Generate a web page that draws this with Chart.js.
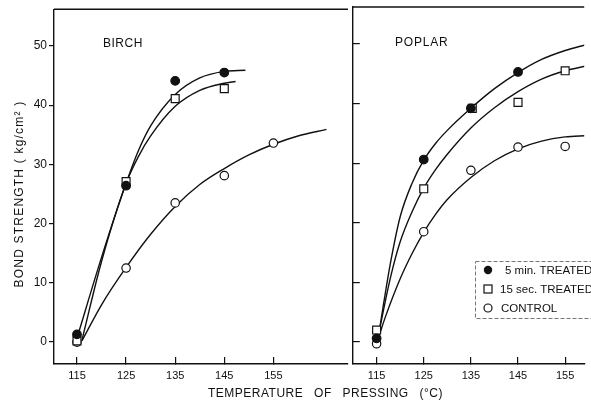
<!DOCTYPE html>
<html><head><meta charset="utf-8">
<script src="https://cdn.jsdelivr.net/npm/chart.js@4.4.1/dist/chart.umd.min.js"></script>
<style>
html,body{margin:0;padding:0;background:#fff;width:591px;height:413px;overflow:hidden;}
#a{position:absolute;left:0;top:0;}
#b{position:absolute;left:346px;top:0;}
</style></head><body>
<canvas id="a" width="591" height="413"></canvas>
<canvas id="b" width="245" height="413"></canvas>
<script>
// ---- tick labels & categories ----
const xTicks = [115, 125, 135, 145, 155];
const yTicks = [0, 10, 20, 30, 40, 50];
const seriesLabels = ['5 min. TREATED', '15 sec. TREATED', 'CONTROL'];
const panelNames = ['BIRCH', 'POPLAR'];
const xTitle = 'TEMPERATURE OF PRESSING (°C)';
const yTitle = 'BOND STRENGTH ( kg/cm² )';

// ---- BIRCH measured points ----
const birchTemp5 = [115, 125, 135, 145];
const birch5 = [1.3, 26.4, 44.1, 45.5];
const birchTemp15 = [115, 125, 135, 145];
const birch15 = [0.2, 27.1, 41.1, 42.8];
const birchTempC = [115, 125, 135, 145, 155];
const birchC = [0.0, 12.5, 23.5, 28.1, 33.6];

// ---- BIRCH fitted curves ----
const birchCurve5X = [115.3, 120, 125, 127.5, 130, 135, 140, 145, 149.3];
const birchCurve5Y = [1.5, 14.3, 26.8, 32.3, 36.5, 41.8, 44.6, 45.7, 45.9];
const birchCurve15X = [116, 120, 125, 127.5, 130, 135, 140, 145, 147.3];
const birchCurve15Y = [0.3, 13.6, 26.8, 31.3, 34.8, 39.8, 42.5, 43.7, 44.0];
const birchCurveCX = [116, 120, 125, 130, 135, 140, 145, 150, 155, 160, 165.8];
const birchCurveCY = [0.2, 6.3, 12.6, 18.2, 22.9, 26.6, 29.3, 31.6, 33.4, 34.8, 35.9];

// ---- POPLAR measured points ----
const poplarTemp5 = [115, 125, 135, 145];
const poplar5 = [0.6, 30.6, 39.2, 45.3];
const poplarTemp15 = [115, 125, 135.3, 145, 155];
const poplar15 = [2.0, 25.7, 39.2, 40.2, 45.5];
const poplarTempC = [115, 125, 135, 145, 155];
const poplarC = [-0.3, 18.5, 28.8, 32.7, 32.8];

// ---- POPLAR fitted curves ----
const poplarCurve5X = [115.5, 116.5, 118, 120, 122.5, 125, 127.5, 130, 135, 140, 145, 150, 155, 159.5];
const poplarCurve5Y = [1.5, 6.5, 13.5, 21.0, 26.6, 30.5, 33.3, 35.5, 39.2, 42.5, 45.2, 47.4, 48.9, 49.9];
const poplarCurve15X = [115.5, 116.5, 118, 120, 122.5, 125, 127.5, 130, 135, 140, 145, 150, 155, 159.5];
const poplarCurve15Y = [1.5, 5.5, 11.0, 16.8, 21.8, 25.8, 28.9, 31.5, 35.9, 39.3, 42.0, 44.1, 45.5, 46.3];
const poplarCurveCX = [115.5, 117, 120, 122.5, 125, 127.5, 130, 135, 140, 145, 150, 155, 159.5];
const poplarCurveCY = [1.0, 4.5, 10.6, 14.8, 18.4, 21.4, 23.9, 27.6, 30.4, 32.4, 33.7, 34.4, 34.6];

const FONT = '"Liberation Sans", Arial, sans-serif';
const INK = '#111';

function pts(xs, ys) { return xs.map((x, i) => ({ x: x, y: ys[i] })); }
function curve(xs, ys) {
  return { data: pts(xs, ys), borderColor: INK, borderWidth: 1.4, pointRadius: 0,
    cubicInterpolationMode: 'monotone', fill: false, showLine: true, order: 10 };
}
function marks(xs, ys, kind, label) {
  const base = { label: label, data: pts(xs, ys), showLine: false, borderColor: INK, borderWidth: 1.2 };
  if (kind === 'filled') return Object.assign(base, { pointStyle: 'circle', pointRadius: 4.3, backgroundColor: INK, pointBackgroundColor: INK, order: 1 });
  if (kind === 'square') return Object.assign(base, { pointStyle: 'rect', pointRadius: 5.6, backgroundColor: '#fff', pointBackgroundColor: '#fff', order: 2 });
  return Object.assign(base, { pointStyle: 'circle', pointRadius: 4.2, backgroundColor: '#fff', pointBackgroundColor: '#fff', order: 3 });
}

function setTicks(list) { return function (s) { s.ticks = list.map(v => ({ value: v })); }; }

function scales(xmin, xmax, yWidth, showYLabels, yTickLen) {
  return {
    x: {
      type: 'linear', min: xmin, max: xmax,
      afterBuildTicks: setTicks(xTicks),
      afterFit: function (s) { s.height = 49; },
      grid: { display: true, drawOnChartArea: false, drawTicks: true, tickLength: -7, color: INK, tickColor: INK, lineWidth: 1.2 },
      border: { display: true, color: INK, width: 1.4 },
      ticks: { color: INK, font: { family: FONT, size: 11 }, padding: 12, maxRotation: 0, autoSkip: false }
    },
    y: {
      type: 'linear', min: -3.7, max: 56.2,
      afterBuildTicks: setTicks(yTicks),
      afterFit: function (s) { s.width = yWidth; },
      grid: { display: true, drawOnChartArea: false, drawTicks: true, tickLength: yTickLen, color: INK, tickColor: INK, lineWidth: 1.2 },
      border: { display: true, color: INK, width: 1.4 },
      ticks: { display: showYLabels, color: INK, font: { family: FONT, size: 12 }, padding: 2, autoSkip: false }
    }
  };
}

function drawSym(ctx, kind, x, y) {
  ctx.save();
  ctx.lineWidth = 1.2; ctx.strokeStyle = INK; ctx.setLineDash([]);
  if (kind === 'filled') { ctx.beginPath(); ctx.arc(x, y, 4.2, 0, Math.PI * 2); ctx.fillStyle = INK; ctx.fill(); }
  else if (kind === 'square') { ctx.fillStyle = '#fff'; ctx.fillRect(x - 4, y - 4, 8, 8); ctx.strokeRect(x - 4, y - 4, 8, 8); }
  else { ctx.beginPath(); ctx.arc(x, y, 4, 0, Math.PI * 2); ctx.fillStyle = '#fff'; ctx.fill(); ctx.stroke(); }
  ctx.restore();
}

const birchDecor = {
  id: 'birchDecor',
  afterDraw(chart) {
    const ctx = chart.ctx, ca = chart.chartArea;
    ctx.save();
    ctx.strokeStyle = INK; ctx.lineWidth = 1.4;
    ctx.beginPath(); ctx.moveTo(ca.left, ca.top); ctx.lineTo(ca.right, ca.top); ctx.stroke();
    ctx.fillStyle = INK;
    ctx.font = '12px ' + FONT;
    ctx.textAlign = 'left'; ctx.textBaseline = 'alphabetic';
    ctx.letterSpacing = '0.5px';
    ctx.fillText(panelNames[0], 103, 47);
    // x title
    ctx.letterSpacing = '0.5px';
    try { ctx.wordSpacing = '7px'; } catch (e) {}
    ctx.textBaseline = 'middle';
    ctx.fillText(xTitle, 208, 394);
    try { ctx.wordSpacing = '0px'; } catch (e) {}
    // y title
    ctx.translate(20, 194);
    ctx.rotate(-Math.PI / 2);
    ctx.textAlign = 'center';
    ctx.letterSpacing = '1.2px';
    ctx.fillText(yTitle, 0, 0);
    ctx.restore();
  }
};

const poplarDecor = {
  id: 'poplarDecor',
  afterDraw(chart) {
    const ctx = chart.ctx, ca = chart.chartArea;
    ctx.save();
    ctx.strokeStyle = INK; ctx.lineWidth = 1.4;
    ctx.beginPath(); ctx.moveTo(ca.left, ca.top); ctx.lineTo(ca.right, ca.top); ctx.stroke();
    ctx.fillStyle = INK;
    ctx.font = '12px ' + FONT;
    ctx.textAlign = 'left'; ctx.textBaseline = 'alphabetic';
    ctx.letterSpacing = '0.8px';
    ctx.fillText(panelNames[1], 49, 46);
    // legend box
    ctx.strokeStyle = '#777'; ctx.lineWidth = 1; ctx.setLineDash([4, 2]);
    ctx.strokeRect(129.5, 261.5, 130, 57);
    ctx.setLineDash([]);
    const kinds = ['filled', 'square', 'open'];
    const rows = [270, 289, 308];
    const tx = [159, 154, 155];
    ctx.font = '11.5px ' + FONT;
    ctx.letterSpacing = '0px';
    ctx.textBaseline = 'middle';
    for (let i = 0; i < 3; i++) {
      drawSym(ctx, kinds[i], 142, rows[i]);
      ctx.fillStyle = INK;
      ctx.fillText(seriesLabels[i], tx[i], rows[i] + 0.5);
    }
    ctx.restore();
  }
};

const common = {
  responsive: false, animation: false, events: [],
  plugins: { legend: { display: false }, tooltip: { enabled: false }, title: { display: false } }
};

new Chart(document.getElementById('a'), {
  type: 'scatter',
  data: { datasets: [
    marks(birchTemp5, birch5, 'filled', seriesLabels[0]),
    marks(birchTemp15, birch15, 'square', seriesLabels[1]),
    marks(birchTempC, birchC, 'open', seriesLabels[2]),
    curve(birchCurve5X, birchCurve5Y),
    curve(birchCurve15X, birchCurve15Y),
    curve(birchCurveCX, birchCurveCY)
  ] },
  options: Object.assign({}, common, {
    layout: { padding: { left: 0, right: 243, top: 7, bottom: 0 } },
    scales: scales(110.32, 170.19, 54, true, 5)
  }),
  plugins: [birchDecor]
});

new Chart(document.getElementById('b'), {
  type: 'scatter',
  data: { datasets: [
    marks(poplarTemp5, poplar5, 'filled', seriesLabels[0]),
    marks(poplarTemp15, poplar15, 'square', seriesLabels[1]),
    marks(poplarTempC, poplarC, 'open', seriesLabels[2]),
    curve(poplarCurve5X, poplarCurve5Y),
    curve(poplarCurve15X, poplarCurve15Y),
    curve(poplarCurveCX, poplarCurveCY)
  ] },
  options: Object.assign({}, common, {
    layout: { padding: { left: 0, right: 0, top: 7, bottom: 0 } },
    scales: scales(109.95, 159.04, 2, false, -7)
  }),
  plugins: [poplarDecor]
});
</script>
</body></html>
